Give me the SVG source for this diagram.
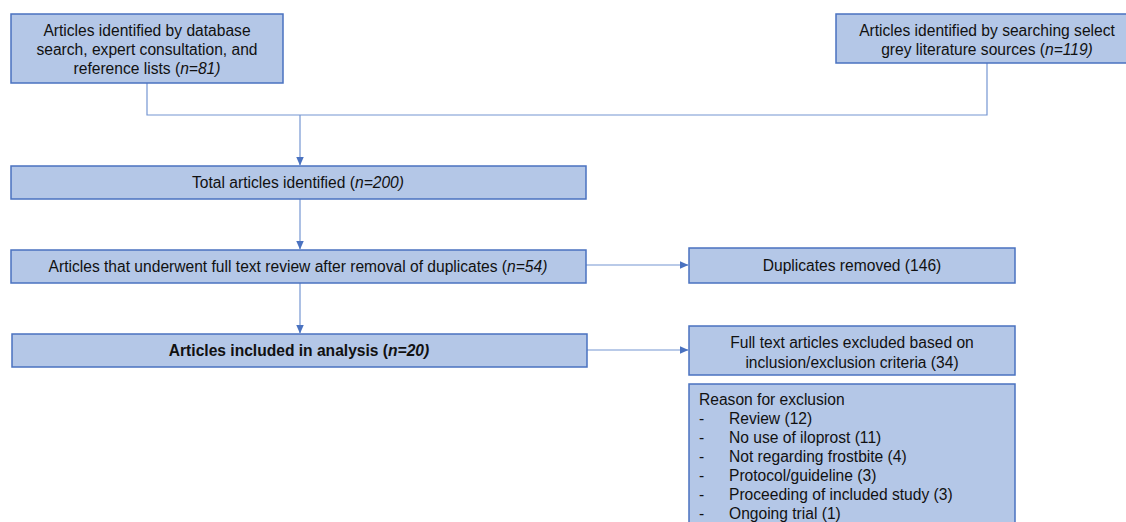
<svg xmlns="http://www.w3.org/2000/svg" width="1126" height="522" viewBox="0 0 1126 522">
<defs>
<style>
.box{fill:#b4c7e7;stroke:#4a72c0;stroke-width:1.5}
.t{font-family:"Liberation Sans",Arial,sans-serif;font-size:15.6px;fill:#111}
.c{text-anchor:middle}
.ln{fill:none;stroke:#7596d2;stroke-width:1.2}
</style>
<marker id="ah" markerWidth="9" markerHeight="8" refX="8.5" refY="4" orient="auto" markerUnits="userSpaceOnUse">
<path d="M0,0 L9,4 L0,8 Z" fill="#4a72c0"/>
</marker>
</defs>
<rect width="1126" height="522" fill="#ffffff"/>
<g id="connectors">
<polyline class="ln" points="147,83 147,115 987,115 987,63"/>
<line class="ln" x1="300" y1="115" x2="300" y2="165" marker-end="url(#ah)"/>
<line class="ln" x1="300" y1="199" x2="300" y2="249" marker-end="url(#ah)"/>
<line class="ln" x1="300" y1="283" x2="300" y2="333" marker-end="url(#ah)"/>
<line class="ln" x1="586" y1="265" x2="688" y2="265" marker-end="url(#ah)"/>
<line class="ln" x1="586" y1="350" x2="688" y2="350" marker-end="url(#ah)"/>
</g>
<g id="n1">
<rect class="box" x="11" y="14" width="272" height="69"/>
<text class="t c" x="147" y="35.5">Articles identified by database</text>
<text class="t c" x="147" y="55">search, expert consultation, and</text>
<text class="t c" x="147" y="74">reference lists (<tspan font-style="italic">n=81)</tspan></text>
</g>
<g id="n2">
<rect class="box" x="836" y="14" width="302" height="49"/>
<text class="t c" x="987" y="35.5">Articles identified by searching select</text>
<text class="t c" x="987" y="55">grey literature sources (<tspan font-style="italic">n=119)</tspan></text>
</g>
<g id="n3">
<rect class="box" x="11" y="166" width="575" height="33"/>
<text class="t c" x="298" y="188">Total articles identified (<tspan font-style="italic">n=200)</tspan></text>
</g>
<g id="n4">
<rect class="box" x="11" y="250" width="575" height="33"/>
<text class="t c" x="298" y="272">Articles that underwent full text review after removal of duplicates (<tspan font-style="italic">n=54)</tspan></text>
</g>
<g id="n5">
<rect class="box" x="689" y="248" width="326" height="35"/>
<text class="t c" x="852" y="271">Duplicates removed (146)</text>
</g>
<g id="n6">
<rect class="box" x="12" y="334" width="575" height="33"/>
<text class="t c" x="299" y="356" font-weight="bold">Articles included in analysis (<tspan font-style="italic">n=20)</tspan></text>
</g>
<g id="n7">
<rect class="box" x="689" y="326" width="326" height="49"/>
<text class="t c" x="852" y="348">Full text articles excluded based on</text>
<text class="t c" x="852" y="367.5">inclusion/exclusion criteria (34)</text>
</g>
<g id="n8">
<rect class="box" x="689" y="384" width="326" height="150"/>
<text class="t" x="699" y="405">Reason for exclusion</text>
<text class="t" x="699" y="424">-</text><text class="t" x="729" y="424">Review (12)</text>
<text class="t" x="699" y="443">-</text><text class="t" x="729" y="443">No use of iloprost (11)</text>
<text class="t" x="699" y="462">-</text><text class="t" x="729" y="462">Not regarding frostbite (4)</text>
<text class="t" x="699" y="481">-</text><text class="t" x="729" y="481">Protocol/guideline (3)</text>
<text class="t" x="699" y="500">-</text><text class="t" x="729" y="500">Proceeding of included study (3)</text>
<text class="t" x="699" y="519">-</text><text class="t" x="729" y="519">Ongoing trial (1)</text>
</g>
</svg>
